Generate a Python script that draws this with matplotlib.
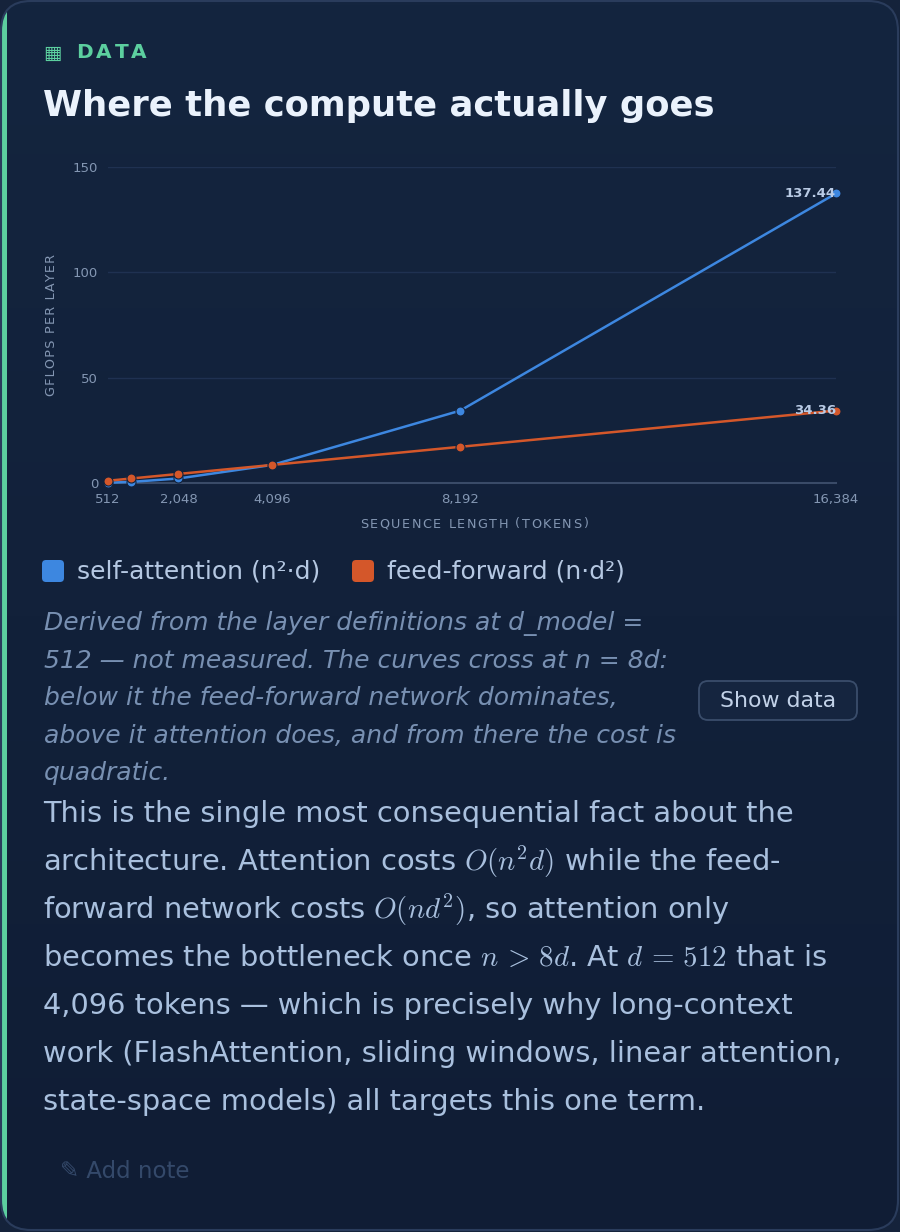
import matplotlib.pyplot as plt
import numpy as np
from matplotlib.patches import FancyBboxPatch, Rectangle
from matplotlib.font_manager import FontProperties, findfont, get_font
import matplotlib.colors as mcolors

plt.rcParams['mathtext.fontset'] = 'cm'

# dane: GFLOPs na warstwę przy d_model = 512
seq_len = [512, 1024, 2048, 4096, 8192, 16384]
attention = [0.134, 0.537, 2.147, 8.59, 34.36, 137.44]
feed_forward = [1.074, 2.147, 4.295, 8.59, 17.18, 34.36]
xtick_vals = [512, 2048, 4096, 8192, 16384]
xtick_labels = ["512", "2,048", "4,096", "8,192", "16,384"]
ytick_vals = [0, 50, 100, 150]

BLUE = "#3d87e0"
ORANGE = "#d4572a"
AXIS_TXT = "#8497b3"
W, H = 900, 1232

fig = plt.figure(figsize=(W / 100, H / 100), dpi=100)
fig.patch.set_facecolor("#15233b")


def spaced_text(ax, x, y, s, size, spacing, weight="normal", **kw):
    # tekst z odstępami między literami (matplotlib nie ma letter-spacing)
    font = get_font(findfont(FontProperties(size=size, weight=weight)), hinting_factor=1)
    font.set_size(size, 100)
    pen = 0.0
    for ch in s:
        adv = font.load_char(ord(ch)).linearHoriAdvance / 65536
        if ch != " ":
            ax.text(x + pen + adv / 2, y, ch, fontsize=size, fontweight=weight,
                    ha="center", va="center", **kw)
        pen += adv + spacing
    return pen - spacing


# tło karty w pikselach
bg = fig.add_axes([0, 0, 1, 1])
bg.set_xlim(0, W)
bg.set_ylim(H, 0)
bg.axis("off")

card = FancyBboxPatch((1, 1), W - 3, H - 3, boxstyle="round,pad=0,rounding_size=30",
                      facecolor="none", edgecolor="#2a3c5c", lw=1.5, zorder=3)
bg.add_patch(card)
grad = np.linspace(0, 1, 256).reshape(-1, 1)
cmap = mcolors.LinearSegmentedColormap.from_list("card", ["#14253f", "#101d35"])
im = bg.imshow(grad, cmap=cmap, extent=[0, W, H, 0], aspect="auto", zorder=1)
im.set_clip_path(card)
accent = Rectangle((0, 0), 7, H, facecolor="#5ccf9f", edgecolor="none", zorder=2)
bg.add_patch(accent)
accent.set_clip_path(card)

# nagłówek
bg.text(43, 53, "▦", color="#5ccf9f", fontsize=14, ha="left", va="center", zorder=4)
spaced_text(bg, 76, 53, "DATA", 14.5, 3.2, weight="bold", color="#5ccf9f", zorder=4)
bg.text(43, 106, "Where the compute actually goes", color="#eaf2fc", fontsize=25.5,
        fontweight="bold", ha="left", va="center", zorder=4)

# wykres
ax = fig.add_axes([108 / W, 1 - 483 / H, 728 / W, 316 / H])
ax.set_facecolor("none")
ax.set_zorder(5)
ax.plot(seq_len, attention, "-o", color=BLUE, lw=1.8, ms=6.5,
        markeredgecolor="#13223c", mew=0.8, clip_on=False, zorder=3)
ax.plot(seq_len, feed_forward, "-o", color=ORANGE, lw=1.8, ms=6.5,
        markeredgecolor="#13223c", mew=0.8, clip_on=False, zorder=4)
for series in (attention, feed_forward):
    ax.annotate(f"{series[-1]:.2f}", xy=(seq_len[-1], series[-1]), xytext=(0, 0),
                textcoords="offset points", ha="right", va="center",
                fontsize=9.5, fontweight="bold", color="#b9cbe5", zorder=6)
ax.set_xlim(512, 16384)
ax.set_ylim(0, 150)
ax.set_xticks(xtick_vals)
ax.set_xticklabels(xtick_labels)
ax.set_yticks(ytick_vals)
ax.tick_params(length=0, colors=AXIS_TXT, labelsize=9.5)
ax.tick_params(axis="x", pad=7)
ax.tick_params(axis="y", pad=7)
ax.grid(axis="y", color="#1f3151", lw=1)
ax.set_axisbelow(True)
for s in ["top", "right", "left"]:
    ax.spines[s].set_visible(False)
ax.spines["bottom"].set_color("#3a4b68")
ax.spines["bottom"].set_linewidth(1.5)

spaced_text(bg, 360, 524, "SEQUENCE LENGTH (TOKENS)", 9.2, 1.4, color=AXIS_TXT, zorder=4)
# pionowy podpis: odstępy przez "hair space"
bg.text(52, 325, "\u200a".join("GFLOPS PER LAYER"), rotation=90, fontsize=9.2,
        color=AXIS_TXT, ha="center", va="center", zorder=4)

# legenda
for x0, col, lab in [(42, BLUE, "self-attention (n²·d)"), (352, ORANGE, "feed-forward (n·d²)")]:
    bg.add_patch(FancyBboxPatch((x0, 560), 22, 22, boxstyle="round,pad=0,rounding_size=4",
                                facecolor=col, edgecolor="none", zorder=4))
    bg.text(x0 + 35, 571, lab, color="#b5c8e2", fontsize=18, ha="left", va="center", zorder=4)

# podpis
caption = ["Derived from the layer definitions at d_model =",
           "512 — not measured. The curves cross at n = 8d:",
           "below it the feed-forward network dominates,",
           "above it attention does, and from there the cost is",
           "quadratic."]
for i, line in enumerate(caption):
    bg.text(44, 623 + i * 37.5, line, color="#7890b2", fontsize=18, style="italic",
            ha="left", va="center", zorder=4)

bg.add_patch(FancyBboxPatch((699, 681), 158, 39, boxstyle="round,pad=0,rounding_size=9",
                            facecolor="#15253f", edgecolor="#3a4d6b", lw=1.3, zorder=4))
bg.text(778, 701, "Show data", color="#c2d2e8", fontsize=15.8, ha="center", va="center", zorder=5)

# tekst główny
body = ["This is the single most consequential fact about the",
        "architecture. Attention costs $O(n^2d)$ while the feed-",
        "forward network costs $O(nd^2)$, so attention only",
        "becomes the bottleneck once $n\\,>\\,8d$. At $d\\,=\\,512$ that is",
        "4,096 tokens — which is precisely why long-context",
        "work (FlashAttention, sliding windows, linear attention,",
        "state-space models) all targets this one term."]
for i, line in enumerate(body):
    bg.text(43, 814 + i * 48, line, color="#a9c0de", fontsize=20.8, ha="left",
            va="center", zorder=4)

bg.text(60, 1172, "✎ Add note", color="#34496a", fontsize=16.5, ha="left", va="center", zorder=4)

fig.savefig("out.png", dpi=100, facecolor=fig.get_facecolor())
